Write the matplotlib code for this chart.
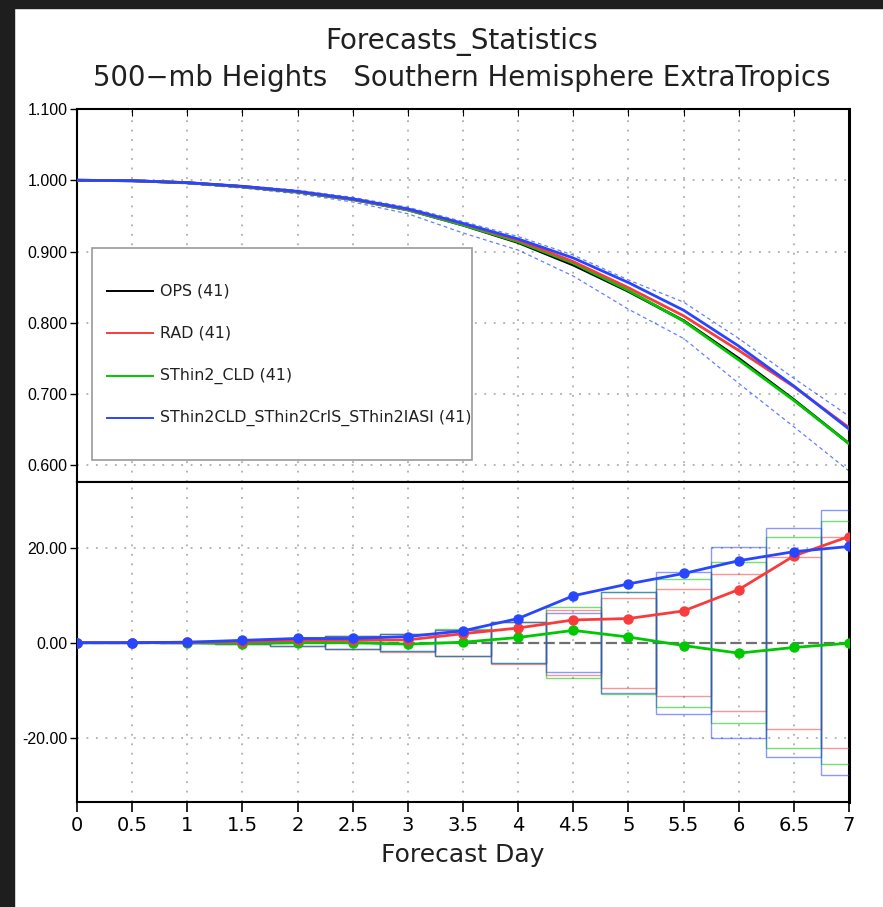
import numpy as np
import matplotlib
matplotlib.use("Agg")
import matplotlib.pyplot as plt
from matplotlib.patches import Rectangle
from matplotlib.lines import Line2D

# ---------------- data ----------------
days = [0, 0.5, 1, 1.5, 2, 2.5, 3, 3.5, 4, 4.5, 5, 5.5, 6, 6.5, 7]
xtick_labels = ["0", "0.5", "1", "1.5", "2", "2.5", "3", "3.5", "4", "4.5", "5", "5.5", "6", "6.5", "7"]

ops_ac = [1.000, 0.9993, 0.9965, 0.9910, 0.9835, 0.9730, 0.9585, 0.9370, 0.9125, 0.8810,
          0.8440, 0.8030, 0.7500, 0.6920, 0.6305]

# differences from OPS (x 1000)
rad_diff = [0.0, 0.0, 0.1, 0.2, 0.5, 0.5, 0.6, 1.9, 3.1, 4.8, 5.1, 6.7, 11.2, 18.3, 22.4]
cld_diff = [0.0, 0.0, 0.0, -0.2, 0.0, 0.0, -0.3, 0.1, 1.1, 2.6, 1.2, -0.6, -2.2, -1.0, -0.1]
all_diff = [0.0, 0.0, 0.1, 0.5, 0.9, 0.9, 1.3, 2.5, 5.1, 9.9, 12.4, 14.6, 17.3, 19.2, 20.3]

# significance half-widths (x 1000)
rad_sig = [0.0, 0.0, 0.1, 0.3, 0.6, 1.4, 1.9, 2.7, 4.4, 6.8, 9.5, 11.3, 14.4, 18.1, 22.2]
cld_sig = [0.0, 0.0, 0.1, 0.3, 0.6, 1.4, 1.8, 2.9, 4.3, 7.5, 10.8, 13.5, 17.0, 22.2, 25.6]
all_sig = [0.0, 0.0, 0.1, 0.3, 0.6, 1.4, 1.8, 2.7, 4.3, 6.2, 10.6, 15.0, 20.1, 24.2, 28.0]

# dashed confidence bounds in the top panel
upper_bound = [1.0, 0.9995, 0.9970, 0.9925, 0.9860, 0.9760, 0.9620, 0.9420, 0.9210, 0.8950,
               0.8600, 0.8290, 0.7780, 0.7220, 0.6690]
lower_bound = [1.0, 0.9990, 0.9950, 0.9890, 0.9810, 0.9695, 0.9530, 0.9260, 0.9020, 0.8655,
               0.8190, 0.7780, 0.7150, 0.6540, 0.5920]

names = ["OPS (41)", "RAD (41)", "SThin2_CLD (41)", "SThin2CLD_SThin2CrIS_SThin2IASI (41)"]
colors = ["#000000", "#f83c3c", "#00c800", "#2846ff"]

top_yticks = [0.6, 0.7, 0.8, 0.9, 1.0, 1.1]
bot_yticks = [-20, 0, 20]

# ---------------- figure ----------------
W, H = 883, 907
fig = plt.figure(figsize=(W / 100, H / 100), dpi=100)
fig.patch.set_facecolor("white")

# dark frame at left/top of the screenshot
fig.add_artist(Rectangle((0, 0), 14 / W, 1, transform=fig.transFigure, color="#1e1e1e", zorder=-10))
fig.add_artist(Rectangle((0, 1 - 8 / H), 1, 8 / H, transform=fig.transFigure, color="#1e1e1e", zorder=-10))

left = 77 / W
width = (849 - 77) / W
ax1 = fig.add_axes([left, 1 - 482 / H, width, (482 - 109) / H])
ax2 = fig.add_axes([left, 1 - 802 / H, width, (802 - 482) / H], sharex=ax1)

hershey = ["DejaVu Sans"]
tickfont = "Liberation Sans"

grid_kw = dict(color="#a0a0a0", lw=1.1, linestyle=(0, (1.2, 5)))

d = np.array(days)
ops = np.array(ops_ac)
rad_ac = ops + np.array(rad_diff) / 1000
cld_ac = ops + np.array(cld_diff) / 1000
all_ac = ops + np.array(all_diff) / 1000

# ---- top panel ----
for xv in days[1:-1]:
    ax1.axvline(xv, **grid_kw, zorder=1)
for yv in top_yticks[:-1]:
    ax1.axhline(yv, **grid_kw, zorder=1)

ax1.plot(d, upper_bound, color=colors[3], lw=0.9, ls=(0, (3, 2.5)), alpha=0.7, zorder=2)
ax1.plot(d, lower_bound, color=colors[3], lw=0.9, ls=(0, (3, 2.5)), alpha=0.7, zorder=2)
ax1.plot(d, ops, color=colors[0], lw=2.0, zorder=3)
ax1.plot(d, cld_ac, color=colors[2], lw=2.0, zorder=4)
ax1.plot(d, rad_ac, color=colors[1], lw=2.0, zorder=5)
ax1.plot(d, all_ac, color=colors[3], lw=2.0, zorder=6)

ax1.set_xlim(0, 7)
ax1.set_ylim(0.5765, 1.1)
ax1.set_yticks(top_yticks)
ax1.set_yticklabels([f"{v:.3f}" for v in top_yticks])
ax1.tick_params(axis="x", which="both", direction="in", length=5, labelbottom=False, bottom=False, top=True)
ax1.tick_params(axis="y", direction="out", length=5, width=1, labelsize=11.5, pad=2)
for lab in ax1.get_yticklabels():
    lab.set_fontfamily(tickfont)

# manual legend box
ax1.add_patch(Rectangle((0.0194, 0.059), 0.4923, 0.5683, transform=ax1.transAxes,
                        facecolor="white", edgecolor="#9a9a9a", lw=1.2, zorder=8))
leg_y = [0.512, 0.399, 0.284, 0.172]
for name, c, yy in zip(names, colors, leg_y):
    ax1.add_line(Line2D([0.039, 0.0984], [yy, yy], transform=ax1.transAxes, color=c, lw=1.4, zorder=9))
    ax1.text(0.1075, yy, name, transform=ax1.transAxes, va="center", ha="left",
             fontsize=11.4, family=hershey, color="#202020", zorder=9)

# ---- bottom panel ----
for xv in days[1:-1]:
    ax2.axvline(xv, **grid_kw, zorder=1)
for yv in [-20, 20]:
    ax2.axhline(yv, **grid_kw, zorder=1)
ax2.axhline(0, color="#707070", lw=1.6, ls=(0, (5, 2)), zorder=2)

for sig, c in [(rad_sig, colors[1]), (cld_sig, colors[2]), (all_sig, colors[3])]:
    for xv, s in zip(days, sig):
        if s <= 0:
            continue
        ax2.add_patch(Rectangle((xv - 0.25, -s), 0.5, 2 * s, facecolor="none",
                                edgecolor=c, lw=1.0, alpha=0.55, zorder=3))

mk = dict(marker="o", markersize=6.5, lw=2.0)
ax2.plot(d, rad_diff, color=colors[1], zorder=6, **mk)
ax2.plot(d, cld_diff, color=colors[2], zorder=5, **mk)
ax2.plot(d, all_diff, color=colors[3], zorder=7, **mk)

ax2.set_ylim(-33.6, 33.9)
ax2.set_yticks(bot_yticks)
ax2.set_yticklabels([f"{v:.2f}" for v in bot_yticks])
ax2.tick_params(axis="y", direction="out", length=5, width=1, labelsize=11.5, pad=2)
for lab in ax2.get_yticklabels():
    lab.set_fontfamily(tickfont)

ax2.set_xticks(days)
ax2.set_xticklabels(xtick_labels)
ax2.tick_params(axis="x", direction="out", length=7, width=1.2, labelsize=14, pad=3)
for lab in ax2.get_xticklabels():
    lab.set_fontfamily(hershey)
ax2.set_xlabel("Forecast Day", fontsize=18, family=hershey, color="#202020", labelpad=6)

for ax in (ax1, ax2):
    for side in ["left", "right", "top", "bottom"]:
        ax.spines[side].set_color("black")
        ax.spines[side].set_linewidth(1.5)
    ax.spines["right"].set_linewidth(2.2)

# titles
fig.text(0.523, 1 - 42 / H, "Forecasts_Statistics", ha="center", va="center",
         fontsize=20, family=hershey, color="#202020")
fig.text(0.523, 1 - 78 / H, "500\u2212mb Heights   Southern Hemisphere ExtraTropics",
         ha="center", va="center", fontsize=19.8, family=hershey, color="#202020")

fig.savefig("out.png", dpi=100)
